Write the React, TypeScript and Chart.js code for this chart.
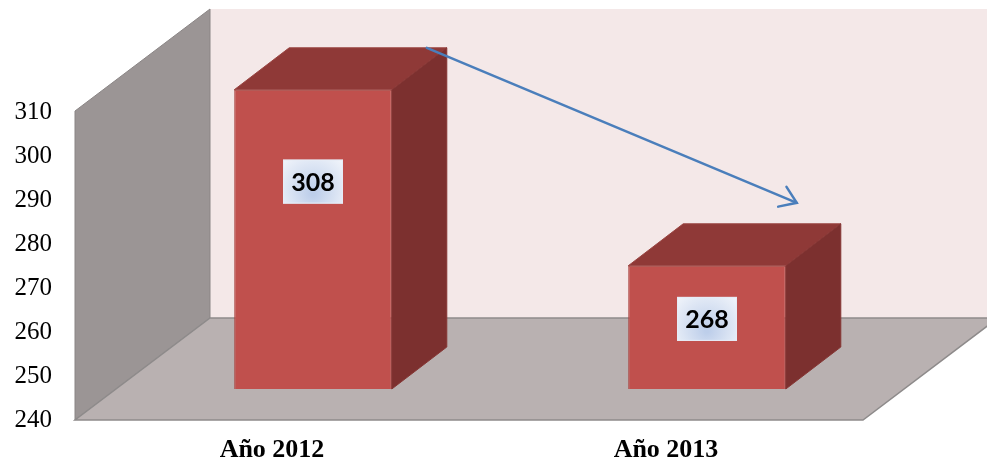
import React, { useEffect, useRef } from 'react';
import { Chart, registerables } from 'chart.js';

Chart.register(...registerables);

const categories = ['Año 2012', 'Año 2013'];
const values = [308, 268];
const yMin = 240;
const yMax = 310;
const yStep = 10;

// depth geometry (pixels)
const WALL_DX = 135;
const WALL_DY = -102;
const FRONT_DX = 41;
const FRONT_DY = -31;
const BAR_DX = 55;
const BAR_DY = -42;

const threeD = {
  id: 'threeD',
  beforeDatasetsDraw(chart: any) {
    const { ctx, chartArea: a } = chart;
    const { top, bottom, left, right } = a;
    ctx.save();
    // back wall
    ctx.fillStyle = '#F4E8E8';
    ctx.fillRect(left + WALL_DX, top + WALL_DY - 1, chart.width, bottom - top + 1);
    // left wall
    ctx.beginPath();
    ctx.moveTo(left, top - 1);
    ctx.lineTo(left + WALL_DX, top + WALL_DY - 1);
    ctx.lineTo(left + WALL_DX, bottom + WALL_DY);
    ctx.lineTo(left, bottom);
    ctx.closePath();
    ctx.fillStyle = '#9B9595';
    ctx.fill();
    ctx.strokeStyle = '#8A8585';
    ctx.lineWidth = 1;
    ctx.stroke();
    // floor
    ctx.beginPath();
    ctx.moveTo(left, bottom);
    ctx.lineTo(right, bottom);
    ctx.lineTo(right + WALL_DX, bottom + WALL_DY);
    ctx.lineTo(left + WALL_DX, bottom + WALL_DY);
    ctx.closePath();
    ctx.fillStyle = '#B9B1B1';
    ctx.fill();
    ctx.strokeStyle = '#8E8B8B';
    ctx.lineWidth = 1.5;
    ctx.stroke();
    ctx.restore();
  },
  beforeDatasetDraw(chart: any) {
    chart.ctx.save();
    chart.ctx.translate(FRONT_DX, FRONT_DY);
  },
  afterDatasetDraw(chart: any, args: any) {
    const ctx = chart.ctx;
    ctx.restore();
    ctx.save();
    args.meta.data.forEach((el: any) => {
      const p = el.getProps(['x', 'y', 'base', 'width'], true);
      const L = p.x - p.width / 2 + FRONT_DX;
      const R = p.x + p.width / 2 + FRONT_DX;
      const T = p.y + FRONT_DY;
      const B = p.base + FRONT_DY;
      // top face
      ctx.beginPath();
      ctx.moveTo(L, T);
      ctx.lineTo(L + BAR_DX, T + BAR_DY);
      ctx.lineTo(R + BAR_DX, T + BAR_DY);
      ctx.lineTo(R, T);
      ctx.closePath();
      ctx.fillStyle = '#8F3937';
      ctx.fill();
      ctx.strokeStyle = '#9A4542';
      ctx.lineWidth = 1;
      ctx.stroke();
      // side face
      ctx.beginPath();
      ctx.moveTo(R, T);
      ctx.lineTo(R + BAR_DX, T + BAR_DY);
      ctx.lineTo(R + BAR_DX, B + BAR_DY);
      ctx.lineTo(R, B);
      ctx.closePath();
      ctx.fillStyle = '#7C302F';
      ctx.fill();
      ctx.strokeStyle = '#863634';
      ctx.stroke();
    });
    ctx.restore();
  },
  afterDatasetsDraw(chart: any) {
    const ctx = chart.ctx;
    const meta = chart.getDatasetMeta(0);
    ctx.save();
    const geo: any[] = [];
    meta.data.forEach((el: any, i: number) => {
      const p = el.getProps(['x', 'y', 'base', 'width'], true);
      const T = p.y + FRONT_DY;
      const h = p.base - p.y;
      const cx = p.x + FRONT_DX;
      const cy = T + 0.22 * h + 26;
      const bw = 60;
      const bh = 44;
      const g = ctx.createRadialGradient(cx, cy + 12, 2, cx, cy + 6, 42);
      g.addColorStop(0, '#BDCEEA');
      g.addColorStop(1, '#F3F6FB');
      ctx.fillStyle = g;
      ctx.fillRect(cx - bw / 2, cy - bh / 2, bw, bh);
      ctx.strokeStyle = '#E6ECF6';
      ctx.lineWidth = 1;
      ctx.strokeRect(cx - bw / 2 + 0.5, cy - bh / 2 + 0.5, bw - 1, bh - 1);
      ctx.fillStyle = '#000';
      ctx.font = "bold 25px Lato, 'Liberation Sans', sans-serif";
      ctx.textAlign = 'center';
      ctx.textBaseline = 'middle';
      ctx.fillText(String(values[i]), cx, cy + 1);
      geo.push({
        right: p.x + p.width / 2 + FRONT_DX + BAR_DX,
        backTop: p.y + FRONT_DY + BAR_DY,
      });
    });
    // trend arrow from first to second bar
    if (geo.length === 2) {
      const x1 = geo[0].right - 20;
      const y1 = geo[0].backTop;
      const x2 = geo[1].right - 44;
      const y2 = geo[1].backTop - 21;
      ctx.strokeStyle = '#4A7EBB';
      ctx.lineWidth = 2.5;
      ctx.lineCap = 'round';
      ctx.beginPath();
      ctx.moveTo(x1, y1);
      ctx.lineTo(x2, y2);
      ctx.stroke();
      const ang = Math.atan2(y2 - y1, x2 - x1);
      const hl = 19;
      const spread = 0.6;
      ctx.beginPath();
      ctx.moveTo(x2 - hl * Math.cos(ang - spread), y2 - hl * Math.sin(ang - spread));
      ctx.lineTo(x2, y2);
      ctx.lineTo(x2 - hl * Math.cos(ang + spread), y2 - hl * Math.sin(ang + spread));
      ctx.stroke();
    }
    ctx.restore();
  },
};

export default function App() {
  const ref = useRef<HTMLCanvasElement | null>(null);
  useEffect(() => {
    if (!ref.current) return;
    const chart = new Chart(ref.current, {
      type: 'bar',
      data: {
        labels: categories,
        datasets: [
          {
            data: values,
            base: yMin,
            backgroundColor: '#C0504D',
            borderColor: '#A8433F',
            borderWidth: 1,
            categoryPercentage: 1,
            barPercentage: 0.4,
            clip: false as any,
          } as any,
        ],
      },
      options: {
        animation: false,
        responsive: false,
        events: [],
        layout: { padding: { top: 112, right: 124, left: 0, bottom: 0 } },
        plugins: { legend: { display: false }, tooltip: { enabled: false } },
        scales: {
          x: {
            grid: { display: false, drawTicks: false },
            border: { display: false },
            ticks: {
              padding: 15,
              color: '#000',
              font: { family: "'Liberation Serif', 'Times New Roman', serif", size: 26, weight: 'bold' },
            },
            afterFit: (s: any) => {
              s.height = 44;
            },
          },
          y: {
            min: yMin,
            max: yMax,
            grid: { display: false, drawTicks: false },
            border: { display: false },
            ticks: {
              stepSize: yStep,
              padding: 23,
              color: '#000',
              font: { family: "'Liberation Serif', 'Times New Roman', serif", size: 25 },
            },
            afterFit: (s: any) => {
              s.width = 75;
            },
          },
        },
      },
      plugins: [threeD],
    });
    return () => chart.destroy();
  }, []);
  return (
    <div style={{ position: 'fixed', left: 0, top: 0, width: 987, height: 464, background: '#fff' }}>
      <canvas ref={ref} width={987} height={464} />
    </div>
  );
}
